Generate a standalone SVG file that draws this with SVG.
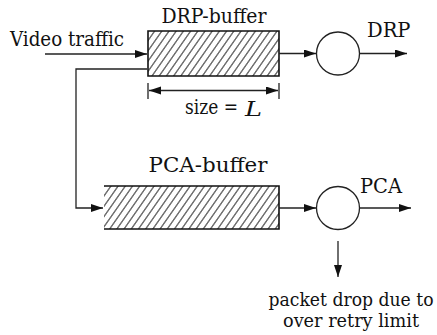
<svg xmlns="http://www.w3.org/2000/svg" width="437" height="335" viewBox="0 0 437 335">
  <defs>
    <!-- diagonal hatching for the queue buffers -->
    <pattern id="hatch" patternUnits="userSpaceOnUse" width="7.2" height="10" patternTransform="skewX(-35)">
      <path d="M3.6,-1 V11" stroke="#222" stroke-width="1.15"/>
    </pattern>
    <marker id="arrow" markerUnits="userSpaceOnUse" markerWidth="13" markerHeight="9" refX="12" refY="4" orient="auto-start-reverse">
      <path d="M0,0 L12,4 L0,8 Z" fill="#111"/>
    </marker>
  </defs>
  <style>
    .txt { font-family: 'DejaVu Serif Condensed', 'DejaVu Serif', serif; font-stretch: condensed; font-size: 20px; fill: #111; }
    .note { font-size: 18px; }
    .line { stroke: #222; stroke-width: 1.3; fill: none; }
    .edge { stroke: #111; stroke-width: 1.6; fill: none; }
    .srv { fill: #fff; stroke: #222; stroke-width: 1.3; }
  </style>
  <rect width="437" height="335" fill="#fff"/>

  <!-- DRP buffer -->
  <g id="drp-buffer">
    <rect x="148" y="31" width="131" height="45" fill="url(#hatch)"/>
    <path class="edge" d="M148,31 H279 V76 H148 Z"/>
    <text class="txt" x="214" y="22.5" text-anchor="middle" textLength="105" lengthAdjust="spacingAndGlyphs">DRP-buffer</text>
  </g>

  <!-- DRP server -->
  <g id="drp-server">
    <circle class="srv" cx="338" cy="53.5" r="21.5"/>
    <text class="txt" x="367" y="36.5" textLength="43.5" lengthAdjust="spacingAndGlyphs">DRP</text>
  </g>

  <!-- PCA buffer -->
  <g id="pca-buffer">
    <rect x="104" y="186" width="175" height="43" fill="url(#hatch)"/>
    <path class="edge" d="M104,186 H279 V229 H104"/>
    <text class="txt" x="148.5" y="172" textLength="119" lengthAdjust="spacingAndGlyphs">PCA-buffer</text>
  </g>

  <!-- PCA server -->
  <g id="pca-server">
    <circle class="srv" cx="338" cy="208" r="21.5"/>
    <text class="txt" x="360" y="192.5" textLength="42" lengthAdjust="spacingAndGlyphs">PCA</text>
  </g>

  <!-- Source and drop labels -->
  <g id="video-traffic">
    <text class="txt" x="10" y="45.5" textLength="114" lengthAdjust="spacingAndGlyphs">Video traffic</text>
  </g>
  <g id="packet-drop">
    <text class="txt note" x="351" y="306" text-anchor="middle" textLength="165" lengthAdjust="spacingAndGlyphs">packet drop due to</text>
    <text class="txt note" x="351" y="326.5" text-anchor="middle" textLength="136" lengthAdjust="spacingAndGlyphs">over retry limit</text>
  </g>

  <!-- Buffer size dimension -->
  <g id="size-dimension">
    <path class="line" d="M148,83 V99 M279,83 V99"/>
    <path class="line" d="M149,90.5 H278" marker-start="url(#arrow)" marker-end="url(#arrow)"/>
    <text class="txt" x="185" y="114" textLength="53" lengthAdjust="spacingAndGlyphs">size =</text>
    <text class="txt" x="245" y="116" font-style="italic" font-size="23" textLength="17" lengthAdjust="spacingAndGlyphs">L</text>
  </g>

  <!-- Connectors -->
  <g id="connectors">
    <path class="line" d="M45,54 H147" marker-end="url(#arrow)"/>
    <path class="line" d="M147,69 H76 V208 H103" marker-end="url(#arrow)"/>
    <path class="line" d="M279,53.5 H316" marker-end="url(#arrow)"/>
    <path class="line" d="M359.5,53.5 H407" marker-end="url(#arrow)"/>
    <path class="line" d="M279,208 H316" marker-end="url(#arrow)"/>
    <path class="line" d="M359.5,208 H411" marker-end="url(#arrow)"/>
    <path class="line" d="M338,241 V277" marker-end="url(#arrow)"/>
  </g>
</svg>
